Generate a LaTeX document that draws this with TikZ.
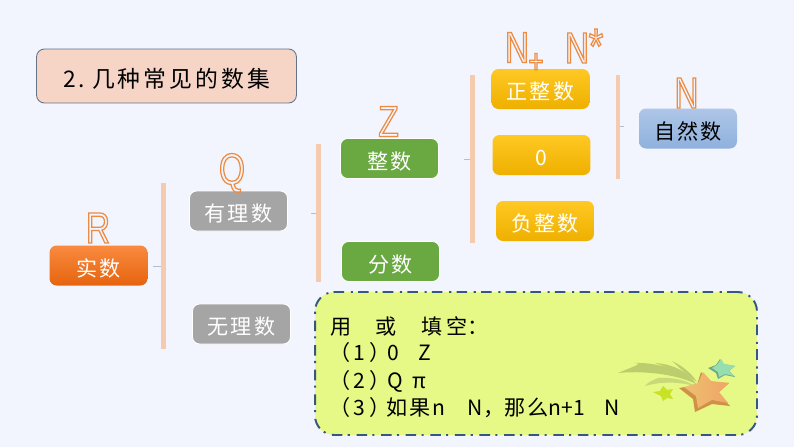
\documentclass[tikz,border=0pt]{standalone}
\usepackage{fontspec}
\usepackage{xcolor}
\setmainfont{Noto Sans CJK SC}
\newfontfamily\letterfont[FakeStretch=0.76]{Liberation Sans}
\newfontfamily\wordfont[LetterSpace=10]{Noto Sans CJK SC}
\newfontfamily\titlefont[LetterSpace=13]{Noto Sans CJK SC}
\definecolor{pagebg}{HTML}{F2F4FE}
\definecolor{barcol}{HTML}{F5CBB0}
\definecolor{tickcol}{HTML}{B9BCCB}
\definecolor{notefill}{HTML}{E6F886}
\definecolor{noteedge}{HTML}{34587F}
\definecolor{trailcol}{HTML}{BCCD6E}
\definecolor{trailsoft}{HTML}{C9D878}
\definecolor{starside}{HTML}{CF9048}
\definecolor{starleft}{HTML}{EDC070}
\definecolor{starright}{HTML}{F0A468}
\definecolor{limestar}{HTML}{C8E226}
\definecolor{tealstar}{HTML}{96DDB0}
\definecolor{tealside}{HTML}{6FA98A}
\newcommand{\outlined}[1]{\special{pdf:code q 1 Tr 0.7 w 0.93 0.55 0.25 RG}#1\special{pdf:code Q}}
\tikzset{
	numbox/.style={rounded corners=4pt, minimum width=1.96cm, minimum height=0.8cm, inner sep=0pt, text=white, text height=12.5pt, text depth=0.5pt, font=\wordfont\fontsize{12}{14}\selectfont},
	orangebox/.style={numbox, top color={rgb,255:red,249;green,138;blue,63}, bottom color={rgb,255:red,230;green,100;blue,15}},
	graybox/.style={numbox, fill={rgb,255:red,165;green,165;blue,165}, draw=white, line width=0.5pt},
	greenbox/.style={numbox, fill={rgb,255:red,106;green,168;blue,66}, draw=white, line width=0.5pt},
	goldbox/.style={numbox, top color={rgb,255:red,255;green,200;blue,35}, bottom color={rgb,255:red,238;green,176;blue,0}},
	bluebox/.style={numbox, text=black, top color={rgb,255:red,174;green,198;blue,232}, bottom color={rgb,255:red,143;green,177;blue,221}},
	setletter/.style={inner sep=0pt, font=\letterfont\fontsize{25}{25}\selectfont},
	bracebar/.style={fill=barcol, draw=none, inner sep=0pt, minimum width=0.1cm},
	tickline/.style={draw=tickcol, line width=0.4pt},
	noteline/.style={anchor=west, inner sep=0pt, font=\fontsize{12}{14}\selectfont},
}

\begin{document}
\begin{tikzpicture}[x=0.02cm, y=-0.02cm]
		\useasboundingbox (0,0) rectangle (794,447);
		\fill[pagebg] (0,0) rectangle (794,447);

		% Title
		\node[rounded corners=4.5pt, fill={rgb,255:red,246;green,213;blue,198}, draw={rgb,255:red,100;green,115;blue,135}, line width=0.5pt, minimum width=5.2cm, minimum height=1.08cm, inner sep=0pt, text height=13.5pt, text depth=0.3pt, font=\titlefont\fontsize{13}{15}\selectfont] (title) at (166.5,76) {2.\hspace{4pt}几种常见的数集};

		% Number boxes
		\node[orangebox] (real) at (98.5,265.5) {实数};
		\node[graybox] (rational) at (238.5,211) {有理数};
		\node[graybox] (irrational) at (241.5,324) {无理数};
		\node[greenbox] (integer) at (389.5,158.5) {整数};
		\node[greenbox] (fraction) at (390.5,261.5) {分数};
		\node[goldbox] (posint) at (540.5,89) {正整数};
		\node[goldbox] (zero) at (541.5,155) {0};
		\node[goldbox] (negint) at (545,221) {负整数};
		\node[bluebox] (natural) at (688,128.5) {自然数};

		% Set letters
		\node[setletter] (letR) at (98,228) {\outlined{R}};
		\node[setletter] (letQ) at (232,173) {\outlined{Q}};
		\node[setletter] (letZ) at (388.5,121.5) {\outlined{Z}};
		\node[setletter] (letNp) at (517,47.5) {\outlined{N}};
		\node[setletter, font=\letterfont\fontsize{19}{19}\selectfont] (letPlus) at (536,63) {\outlined{+}};
		\node[setletter] (letNs) at (577,48) {\outlined{N}};
		\node[setletter, font=\letterfont\fontsize{28}{28}\selectfont] (letStar) at (596,46) {\outlined{*}};
		\node[setletter] (letN) at (686.5,93) {\outlined{N}};

		% Bars and their ticks
		\node[bracebar, minimum height=3.32cm] (barR) at (163.5,266) {};
		\node[bracebar, minimum height=2.76cm] (barQ) at (318.5,213) {};
		\node[bracebar, minimum height=3.36cm] (barZ) at (472.5,159) {};
		\node[bracebar, minimum height=2.08cm, minimum width=0.08cm] (barN) at (618,127) {};
		\coordinate (tickR) at (153,266);
		\coordinate (tickQ) at (311,213);
		\coordinate (tickZ) at (464,159);
		\coordinate (tickN) at (624,126);
		\draw[tickline] (tickR) -- (barR.west);
		\draw[tickline] (tickQ) -- (barQ.west);
		\draw[tickline] (tickZ) -- (barZ.west);
		\draw[tickline] (tickN) -- (barN.east |- tickN);

		% Note box
		\node[rounded corners=11pt, fill=notefill, draw=noteedge, line width=1.1pt, dash pattern=on 6pt off 3pt on 1.2pt off 3.8pt, minimum width=8.84cm, minimum height=2.86cm, inner sep=0pt] (note) at (536,363.5) {};
		\node[noteline] (line0) at (330,326) {用\hspace{13.5pt}或\hspace{14.5pt}填\hspace{2pt}空：};
		\node[noteline] (line1) at (329,352) {（\,1\,）\hspace{-1.7pt}0\hspace{11pt}Z};
		\node[noteline] (line2) at (329,381) {（\,2\,）\hspace{-1.7pt}Q\hspace{5.3pt}π};
		\node[noteline] (line3) at (329,408) {（\,3\,）\hspace{-2.2pt}如\hspace{1pt}果\hspace{1pt}n\hspace{13pt}N，那\hspace{1.5pt}么n+1\hspace{11pt}N};

		% Shooting star
		\fill[trailcol] (618,373) .. controls (632,367) and (645,363) .. (634,363) .. controls (660,362) and (685,372) .. (696,384) .. controls (680,376) and (650,370) .. (618,373);
		\fill[trailcol] (655,363) .. controls (675,364) and (690,374) .. (696,384) .. controls (685,376) and (670,368) .. (655,363);
		\fill[trailcol] (672,361) .. controls (683,366) and (692,374) .. (697,382) .. controls (688,376) and (680,368) .. (672,361);
		\fill[trailsoft] (645,386) .. controls (650,380) and (655,380) .. (658,378) .. controls (672,377) and (686,380) .. (695,386) .. controls (680,382) and (662,381) .. (645,386);
		\fill[starside] (679,388) -- (697,385) -- (701,372) -- (710,382) -- (729,383) -- (718,393) -- (730,406) -- (712,404) -- (695,412) -- (693,399) -- cycle;
		\shade[left color=starleft, right color=starright] (684,387) -- (698,383) -- (703,372) -- (711,381) -- (729,383) -- (719,392) -- (728,403) -- (712,400) -- (698,408) -- (696,396) -- cycle;
		\fill[limestar] (653,392) -- (660,391) -- (663,386) -- (667,390) -- (673,389) -- (670,394) -- (673,399) -- (667,398) -- (663,401) -- (661,396) -- cycle;
		\fill[tealside] (708,368) -- (716,365) -- (720,359) -- (723,364) -- (735,366) -- (729,371) -- (735,377) -- (725,375) -- (718,379) -- (716,373) -- cycle;
		\fill[tealstar] (712,368) -- (717,365) -- (721,359) -- (724,364) -- (735,366) -- (729,371) -- (734,376) -- (725,374) -- (719,377) -- (718,372) -- cycle;
	\end{tikzpicture}
\end{document}
